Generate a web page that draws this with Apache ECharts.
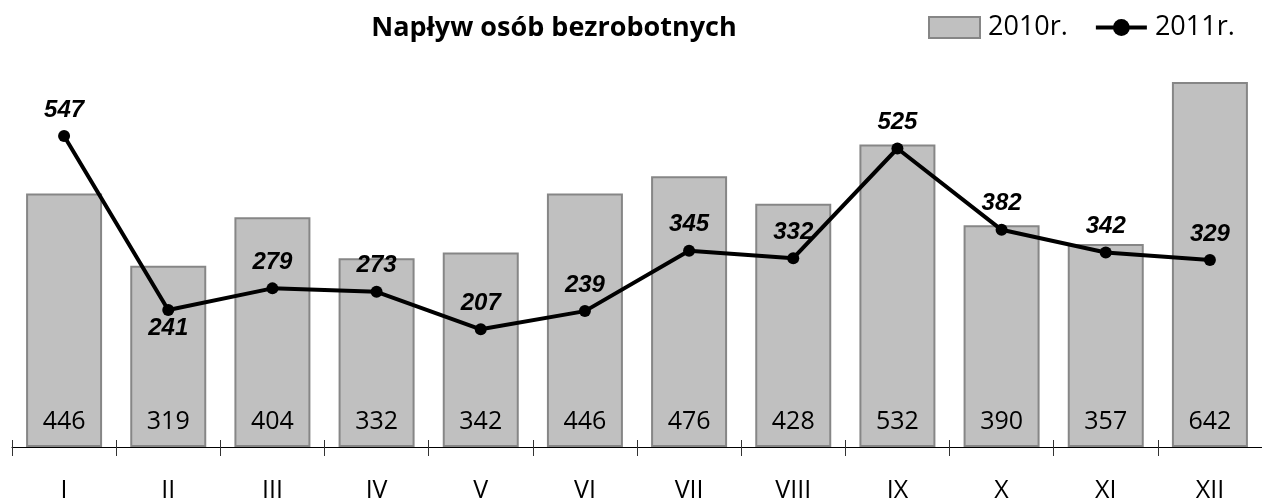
<!DOCTYPE html>
<html>
<head>
<meta charset="utf-8">
<script src="https://cdn.jsdelivr.net/npm/echarts@6/dist/echarts.min.js"></script>
<style>
  html, body { margin: 0; padding: 0; background: #fff; }
  #chart { width: 1262px; height: 503px; }
</style>
</head>
<body>
<div id="chart"></div>
<script>
const months = ['I', 'II', 'III', 'IV', 'V', 'VI', 'VII', 'VIII', 'IX', 'X', 'XI', 'XII']
const values2010 = [446, 319, 404, 332, 342, 446, 476, 428, 532, 390, 357, 642]
const values2011 = [547, 241, 279, 273, 207, 239, 345, 332, 525, 382, 342, 329]

const chart = echarts.init(document.getElementById('chart'), null, { renderer: 'canvas' })

// label of II sits below the point, the rest above
const lineData = values2011.map((v, i) => {
  if (i === 1) {
    return { value: v, label: { position: 'bottom', distance: 0 } }
  }
  return v
})

const option = {
  backgroundColor: '#fff',
  animation: false,
  title: {
    text: 'Napływ osób bezrobotnych',
    left: 549,
    top: 10,
    textAlign: 'center',
    textStyle: {
      fontFamily: 'Open Sans',
      fontWeight: 'bold',
      fontSize: 27,
      color: '#000'
    }
  },
  legend: {
    left: 928,
    top: 14,
    padding: 0,
    itemWidth: 51,
    itemHeight: 21,
    itemGap: 26,
    data: [
      { name: '2010r.', icon: 'rect' },
      { name: '2011r.', lineStyle: { width: 4, color: '#000' } }
    ],
    textStyle: {
      fontFamily: 'Open Sans',
      fontSize: 27,
      color: '#000',
      padding: [0, 0, 0, 3]
    }
  },
  grid: {
    left: 12,
    width: 1258,
    top: 49,
    bottom: 51,
    containLabel: false
  },
  xAxis: [
    {
      type: 'category',
      data: months,
      boundaryGap: true,
      axisLine: { lineStyle: { color: '#000', width: 1 } },
      axisTick: { show: true, length: 9, lineStyle: { color: '#333' } },
      axisLabel: {
        margin: 31,
        fontFamily: 'Open Sans',
        fontSize: 25,
        color: '#000'
      }
    },
    {
      // second copy only to draw the upper half of the tick marks
      type: 'category',
      data: months,
      position: 'bottom',
      boundaryGap: true,
      axisLine: { show: false },
      axisTick: { show: true, inside: true, length: 7, lineStyle: { color: '#333' } },
      axisLabel: { show: false }
    }
  ],
  yAxis: {
    type: 'value',
    min: 0,
    max: 700,
    show: false,
    splitLine: { show: false }
  },
  series: [
    {
      name: '2010r.',
      type: 'bar',
      data: values2010,
      barWidth: 76,
      itemStyle: {
        color: '#c0c0c0',
        borderColor: '#868686',
        borderWidth: 2
      },
      label: {
        show: true,
        position: 'insideBottom',
        distance: 13,
        fontFamily: 'Open Sans',
        fontSize: 25,
        color: '#000'
      }
    },
    {
      name: '2011r.',
      type: 'line',
      data: lineData,
      symbol: 'circle',
      symbolSize: 12,
      lineStyle: { color: '#000', width: 4 },
      itemStyle: { color: '#000' },
      label: {
        show: true,
        position: 'top',
        distance: 8,
        fontFamily: 'Liberation Sans',
        fontWeight: 'bold',
        fontStyle: 'italic',
        fontSize: 24,
        color: '#000'
      },
      z: 5
    }
  ]
}

chart.setOption(option)
</script>
</body>
</html>
